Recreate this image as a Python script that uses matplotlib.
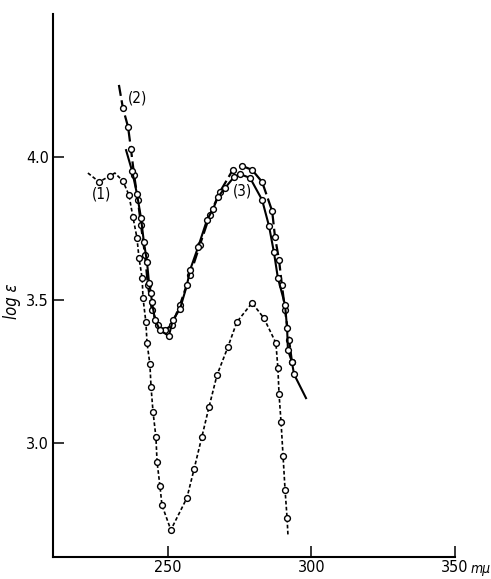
import matplotlib
matplotlib.use("Agg")
import matplotlib.pyplot as plt

# Curve (1): dotted, open circles
wl1 = [222.1, 226.0, 229.8, 231.5, 234.3, 236.4, 237.8, 239.2, 239.9, 241.0, 241.3, 242.3,
       242.7, 243.7, 244.1, 244.8, 245.8, 246.2, 247.2, 247.9, 251.0, 256.6, 259.1, 261.8,
       264.3, 267.1, 270.9, 274.0, 279.3, 283.4, 287.6, 288.3, 288.7, 289.4, 290.1, 290.8,
       291.5, 291.8]
loge1 = [3.944, 3.913, 3.934, 3.944, 3.916, 3.867, 3.790, 3.717, 3.647, 3.577, 3.507, 3.423,
         3.350, 3.276, 3.196, 3.108, 3.021, 2.934, 2.850, 2.783, 2.696, 2.808, 2.909, 3.021,
         3.126, 3.238, 3.336, 3.423, 3.490, 3.437, 3.350, 3.262, 3.171, 3.073, 2.955, 2.836,
         2.738, 2.680]
mark1 = [1, 2] + list(range(4, 37))

# Curve (2): dashed, open circles
wl2 = [232.9, 234.3, 236.1, 237.1, 238.2, 239.5, 240.6, 242.0, 243.0, 244.4, 246.5, 249.0,
       251.4, 254.2, 257.7, 261.1, 264.6, 268.1, 272.6, 275.8, 279.3, 282.8, 286.3, 287.3,
       288.7, 289.7, 290.8, 292.2, 293.2]
loge2 = [4.252, 4.171, 4.105, 4.028, 3.937, 3.850, 3.762, 3.657, 3.552, 3.465, 3.413, 3.395,
         3.413, 3.483, 3.587, 3.692, 3.797, 3.878, 3.955, 3.969, 3.955, 3.913, 3.811, 3.720,
         3.640, 3.552, 3.465, 3.360, 3.283]
mark2 = list(range(1, 29))

# Curve (3): solid, open circles
wl3 = [235.4, 237.5, 239.2, 240.6, 241.6, 242.7, 243.4, 244.1, 244.4, 245.5, 247.2, 250.3,
       251.7, 254.2, 256.6, 257.7, 260.5, 263.6, 265.7, 267.4, 269.9, 273.0, 275.1, 278.6,
       282.8, 285.2, 286.9, 288.3, 290.8, 291.5, 291.8, 293.2, 293.9, 298.1]
loge3 = [4.024, 3.951, 3.871, 3.787, 3.703, 3.633, 3.559, 3.524, 3.493, 3.430, 3.395, 3.374,
         3.430, 3.469, 3.552, 3.605, 3.685, 3.780, 3.818, 3.860, 3.892, 3.930, 3.940, 3.927,
         3.850, 3.759, 3.668, 3.577, 3.483, 3.402, 3.325, 3.283, 3.241, 3.157]
mark3 = list(range(1, 33))

xticks = [250, 300, 350]
xticklabels = ["250", "300", "350"]
yticks = [3.0, 3.5, 4.0]
yticklabels = ["3.0", "3.5", "4.0"]
curve_labels = ["(1)", "(2)", "(3)"]

plt.rcParams['font.family'] = ['Liberation Sans Narrow', 'DejaVu Sans']
plt.rcParams['font.stretch'] = 'condensed'

fig = plt.figure(figsize=(4.91, 5.79), dpi=100)
ax = fig.add_axes([0.1083, 0.0373, 0.8183, 0.9385])

mk = dict(marker='o', markersize=4.2, markerfacecolor='white', markeredgecolor='black',
          markeredgewidth=1.0)
ax.plot(wl1, loge1, color='black', lw=1.2, linestyle=(0, (2.2, 1.4)), markevery=mark1, **mk)
ax.plot(wl2, loge2, color='black', lw=1.6, linestyle=(0, (5, 2)), markevery=mark2, **mk)
ax.plot(wl3, loge3, color='black', lw=1.5, linestyle='-', markevery=mark3, **mk)

ax.text(227.0, 3.87, curve_labels[0], fontsize=11, ha='center', va='center')
ax.text(239.5, 4.206, curve_labels[1], fontsize=11, ha='center', va='center')
ax.text(276.0, 3.881, curve_labels[2], fontsize=11, ha='center', va='center')

ax.set_xlim(210, 350)
ax.set_ylim(2.6, 4.5)
ax.spines['top'].set_visible(False)
ax.spines['right'].set_visible(False)
ax.spines['left'].set_linewidth(1.5)
ax.spines['bottom'].set_linewidth(1.5)
ax.set_xticks(xticks)
ax.set_xticklabels(xticklabels, fontsize=11.5)
ax.set_yticks(yticks)
ax.set_yticklabels(yticklabels, fontsize=11.5)
ax.tick_params(axis='both', direction='in', length=8, width=1.1, pad=3)
ax.tick_params(axis='x', pad=2)
ax.set_ylabel("log ε", fontsize=12, style='italic')
ax.yaxis.set_label_coords(-0.08, 0.472)
ax.text(355.6, 2.545, "mμ", fontsize=10, style='italic', ha='left', va='baseline')

fig.savefig("out.png", dpi=100)
